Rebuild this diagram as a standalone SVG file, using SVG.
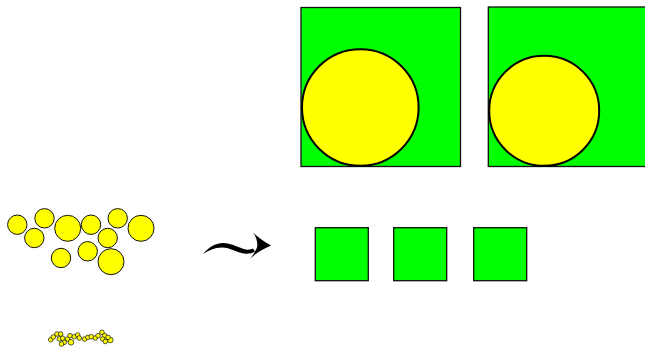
<svg xmlns="http://www.w3.org/2000/svg" width="645" height="347" viewBox="0 0 645 347">
<style>
.sq{fill:#00ff00;stroke:#111;stroke-width:1.3}
.big{fill:#ffff00;stroke:#000;stroke-width:2}
.c{fill:#ffff00;stroke:#111;stroke-width:1}
.t{fill:#ffff00;stroke:#111;stroke-width:0.7}
</style>
<rect width="645" height="347" fill="#fff"/>
<g id="bigsquare1">
<rect class="sq" x="301" y="7.5" width="159.5" height="159"/>
<circle class="big" cx="360.3" cy="107.5" r="58.3"/>
</g>
<g id="bigsquare2">
<rect class="sq" x="488.3" y="7" width="160" height="159.5"/>
<circle class="big" cx="544.2" cy="110.8" r="55"/>
</g>
<g id="cluster">
<circle class="c" cx="17.3" cy="224.7" r="9.7"/>
<circle class="c" cx="34.3" cy="238" r="9.7"/>
<circle class="c" cx="44.5" cy="218.3" r="9.7"/>
<circle class="c" cx="67.7" cy="228.3" r="13"/>
<circle class="c" cx="91" cy="224.7" r="9.7"/>
<circle class="c" cx="117.7" cy="218.3" r="9.7"/>
<circle class="c" cx="141" cy="228.3" r="13"/>
<circle class="c" cx="107.7" cy="238" r="9.7"/>
<circle class="c" cx="61" cy="258" r="9.7"/>
<circle class="c" cx="87.7" cy="251.3" r="9.7"/>
<circle class="c" cx="111" cy="261.7" r="13"/>
</g>
<g id="tinycluster">
<circle class="t" cx="50.7" cy="339.7" r="2.3"/>
<circle class="t" cx="53.3" cy="337" r="2.3"/>
<circle class="t" cx="57" cy="334" r="2.3"/>
<circle class="t" cx="60.7" cy="334" r="2.3"/>
<circle class="t" cx="59.3" cy="339" r="2.3"/>
<circle class="t" cx="62.7" cy="338.3" r="2.3"/>
<circle class="t" cx="64.3" cy="342.3" r="2.3"/>
<circle class="t" cx="61.5" cy="344" r="2.3"/>
<circle class="t" cx="67.7" cy="339" r="2.3"/>
<circle class="t" cx="71" cy="342.3" r="2.8"/>
<circle class="t" cx="70" cy="335.7" r="2.3"/>
<circle class="t" cx="74.3" cy="336.7" r="2.3"/>
<circle class="t" cx="77.7" cy="335" r="2.3"/>
<circle class="t" cx="79.3" cy="338" r="2.3"/>
<circle class="t" cx="84.7" cy="339" r="2.3"/>
<circle class="t" cx="88" cy="337.3" r="2.3"/>
<circle class="t" cx="91.3" cy="336.7" r="2.3"/>
<circle class="t" cx="95.3" cy="338" r="2.3"/>
<circle class="t" cx="98" cy="335.7" r="2.3"/>
<circle class="t" cx="102" cy="332.3" r="2.3"/>
<circle class="t" cx="104.7" cy="335.7" r="2.3"/>
<circle class="t" cx="102.7" cy="339" r="2.3"/>
<circle class="t" cx="105.3" cy="341.5" r="2.3"/>
<circle class="t" cx="110.3" cy="340" r="2.8"/>
<circle class="t" cx="108" cy="337.3" r="2.3"/>
</g>
<g id="connectors">
<path d="M203,254 C209,247 215,243.5 223,243 C232,243 240,248.5 246,249.5 C249,250 251,249.5 253,248.5 L255,251.5 C252,253.5 248,254 244,253.5 C237,252.5 230,247.5 222,247.5 C214,247.5 209,250.5 203,254 Z" fill="#000"/>
<path d="M253,232.5 C258,237 263,241 271,245.5 C263,249 256,253 250.5,258.5 C253,255 255.5,251 257,247.5 C258,243 256.5,237 253,232.5 Z" fill="#000"/>
</g>
<g id="smallsquares">
<rect class="sq" x="315.3" y="227.7" width="53" height="53"/>
<rect class="sq" x="393.7" y="227.7" width="53" height="53"/>
<rect class="sq" x="473.7" y="227.7" width="53" height="53"/>
</g>
</svg>
